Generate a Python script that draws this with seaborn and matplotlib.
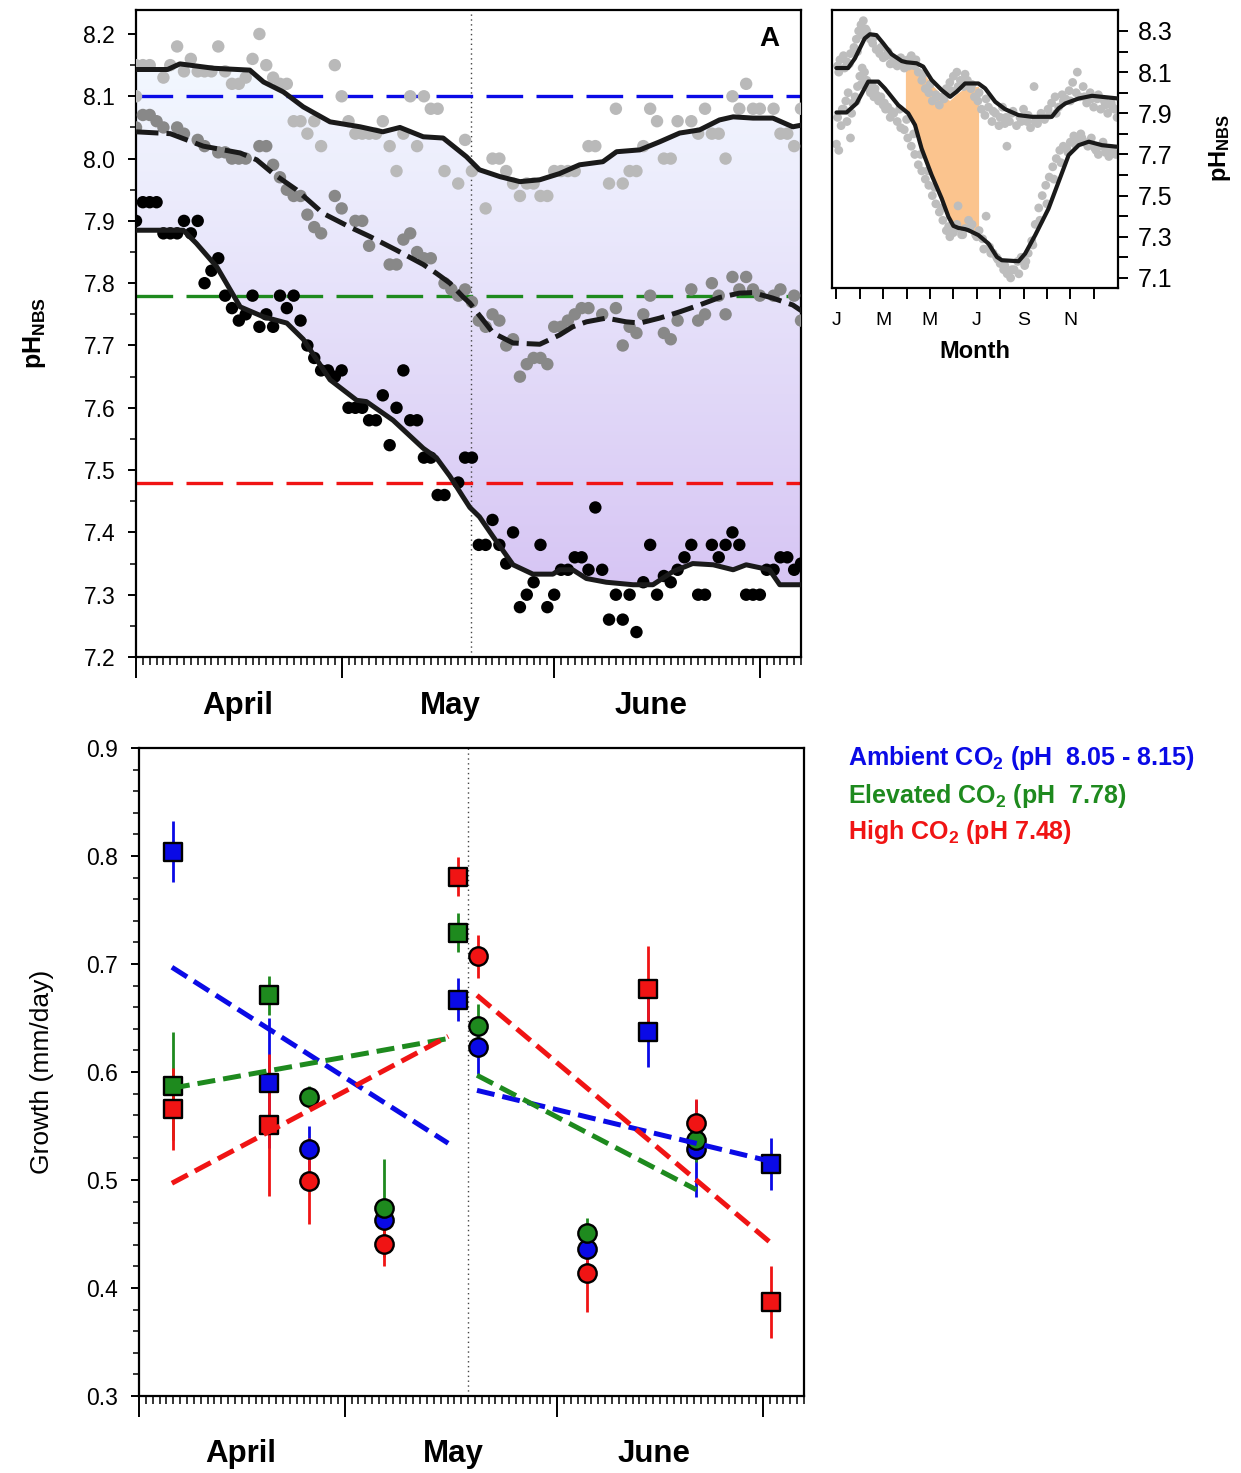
import numpy as np
import matplotlib
matplotlib.use("Agg")
import matplotlib.pyplot as plt
from matplotlib.patches import Polygon
from matplotlib.ticker import FixedLocator, FormatStrFormatter, NullFormatter
import seaborn as sns

# ---------------- seawater pH, spring season (days since 1 April) ----------------
amb_days = [0, 0, 1, 2, 4, 5, 6, 7, 8, 9, 10, 11, 12, 13, 14, 15, 16, 17, 18, 19, 20,
            21, 22, 23, 24, 25, 26, 27, 29, 30, 31, 32, 33, 34, 35, 36, 37, 38, 39, 40,
            41, 42, 43, 44, 45, 47, 48, 49, 51, 52, 53, 54, 55, 56, 57, 58, 59, 60, 61,
            62, 63, 64, 66, 67, 69, 70, 71, 72, 73, 74, 75, 76, 77, 78, 79, 81, 82, 83,
            84, 85, 86, 87, 88, 89, 90, 91, 93, 94, 95, 96, 97]
amb_ph = [8.15, 8.10, 8.15, 8.15, 8.13, 8.15, 8.18, 8.14, 8.16, 8.14, 8.14, 8.14, 8.18,
          8.14, 8.12, 8.12, 8.13, 8.16, 8.20, 8.15, 8.13, 8.12, 8.12, 8.06, 8.06, 8.04,
          8.06, 8.02, 8.15, 8.10, 8.06, 8.04, 8.04, 8.04, 8.04, 8.06, 8.02, 7.98, 8.04,
          8.10, 8.02, 8.10, 8.08, 8.08, 7.98, 7.96, 8.03, 7.98, 7.92, 8.00, 8.00, 7.98,
          7.96, 7.94, 7.96, 7.96, 7.94, 7.94, 7.98, 7.98, 7.98, 7.98, 8.02, 8.02, 7.96,
          8.08, 7.96, 7.98, 7.98, 8.02, 8.08, 8.06, 8.00, 8.00, 8.06, 8.06, 8.04, 8.08,
          8.04, 8.04, 8.00, 8.10, 8.08, 8.12, 8.08, 8.08, 8.08, 8.04, 8.04, 8.02, 8.08]

ele_days = [0, 1, 2, 3, 4, 6, 7, 9, 10, 12, 13, 14, 15, 16, 18, 19, 20, 21, 22, 23, 24,
            25, 26, 27, 29, 30, 32, 33, 34, 37, 38, 39, 40, 41, 42, 43, 45, 46, 47, 48,
            49, 50, 51, 52, 53, 54, 55, 56, 57, 58, 59, 60, 61, 62, 63, 64, 65, 66, 68,
            70, 71, 72, 73, 74, 75, 77, 78, 79, 81, 82, 83, 84, 85, 86, 87, 88, 89, 90,
            91, 93, 94, 96, 97]
ele_ph = [8.05, 8.07, 8.07, 8.06, 8.05, 8.05, 8.04, 8.03, 8.02, 8.01, 8.01, 8.00, 8.00,
          8.00, 8.02, 8.02, 7.99, 7.97, 7.95, 7.94, 7.94, 7.91, 7.89, 7.88, 7.94, 7.92,
          7.90, 7.90, 7.86, 7.83, 7.83, 7.87, 7.88, 7.85, 7.84, 7.84, 7.80, 7.79, 7.78,
          7.79, 7.77, 7.74, 7.73, 7.75, 7.74, 7.70, 7.71, 7.65, 7.67, 7.68, 7.68, 7.67,
          7.73, 7.73, 7.74, 7.75, 7.76, 7.76, 7.75, 7.76, 7.70, 7.73, 7.72, 7.75, 7.78,
          7.72, 7.71, 7.74, 7.79, 7.74, 7.75, 7.80, 7.78, 7.75, 7.81, 7.79, 7.81, 7.79,
          7.78, 7.78, 7.79, 7.78, 7.74]

high_days = list(range(0, 46)) + list(range(47, 98))
high_ph = [7.90, 7.93, 7.93, 7.93, 7.88, 7.88, 7.88, 7.90, 7.88, 7.90, 7.80, 7.82, 7.84,
           7.78, 7.76, 7.74, 7.75, 7.78, 7.73, 7.75, 7.73, 7.78, 7.76, 7.78, 7.74, 7.70,
           7.68, 7.66, 7.66, 7.65, 7.66, 7.60, 7.60, 7.60, 7.58, 7.58, 7.62, 7.54, 7.60,
           7.66, 7.58, 7.58, 7.52, 7.52, 7.46, 7.46, 7.48, 7.52, 7.52, 7.38, 7.38, 7.42,
           7.38, 7.35, 7.40, 7.28, 7.30, 7.32, 7.38, 7.28, 7.30, 7.34, 7.34, 7.36, 7.36,
           7.34, 7.44, 7.34, 7.26, 7.30, 7.26, 7.30, 7.24, 7.32, 7.38, 7.30, 7.33, 7.32,
           7.34, 7.36, 7.38, 7.30, 7.30, 7.38, 7.36, 7.38, 7.40, 7.38, 7.30, 7.30, 7.30,
           7.34, 7.34, 7.36, 7.36, 7.34, 7.35]

# running means
amb_smooth_days = [0, 4.6, 6.4, 11.3, 16.6, 18.6, 21.5, 24.4, 28.3, 32.7, 36, 38.5, 41.9,
                   44.8, 48.2, 50.1, 53.1, 56, 58.9, 61.8, 64.7, 68.1, 70.1, 73.5, 76.4,
                   79.3, 82.2, 85.1, 87.1, 90, 92.9, 95.8, 97.2]
amb_smooth_ph = [8.143, 8.143, 8.152, 8.145, 8.142, 8.123, 8.107, 8.083, 8.059, 8.051,
                 8.043, 8.050, 8.035, 8.033, 8.003, 7.982, 7.971, 7.963, 7.966, 7.976,
                 7.990, 7.995, 8.011, 8.014, 8.027, 8.041, 8.046, 8.062, 8.067, 8.065,
                 8.065, 8.051, 8.054]
ele_smooth_days = [0, 5, 9.8, 15.2, 17.6, 20, 23.4, 27.3, 31.2, 34.1, 38, 41.9, 43.8, 45.8,
                   47.7, 48.7, 52.1, 55, 58.9, 61.8, 63.7, 65.7, 68.6, 71.5, 73.5, 76.4,
                   79.3, 82.2, 85.1, 88, 90, 92.9, 95.8, 97.3]
ele_smooth_ph = [8.043, 8.040, 8.020, 8.009, 7.998, 7.976, 7.950, 7.912, 7.890, 7.875,
                 7.853, 7.830, 7.816, 7.800, 7.778, 7.768, 7.720, 7.704, 7.702, 7.717,
                 7.730, 7.738, 7.744, 7.738, 7.736, 7.744, 7.754, 7.765, 7.777, 7.784,
                 7.785, 7.776, 7.765, 7.754]
high_smooth_days = [0, 6.9, 8.8, 11.8, 15.2, 18.6, 22, 24.4, 28.3, 32.2, 33.6, 37.5, 41.9,
                    43.8, 45.8, 47.7, 48.7, 50.1, 52.1, 55, 57.9, 60.8, 61.8, 63.7, 65.7,
                    68.6, 72.5, 75.4, 78.3, 81.2, 84.2, 87.1, 89, 92.4, 93.9, 97.2]
high_smooth_ph = [7.885, 7.885, 7.864, 7.826, 7.762, 7.746, 7.736, 7.710, 7.645, 7.612,
                  7.610, 7.580, 7.535, 7.520, 7.490, 7.457, 7.440, 7.425, 7.393, 7.348,
                  7.333, 7.333, 7.340, 7.340, 7.326, 7.320, 7.316, 7.316, 7.337, 7.350,
                  7.348, 7.340, 7.348, 7.340, 7.316, 7.316]

target_ph = {"ambient": 8.10, "elevated": 7.78, "high": 7.48}
ph_transition_day = 48.8

# ---------------- annual pH cycle (months since January) ----------------
yr_up_month = [0.05, 0.15, 0.3, 0.45, 0.6, 0.75, 0.85, 0.95, 1.05, 1.15, 1.25, 1.35, 1.45,
               1.55, 1.7, 1.85, 2.0, 2.15, 2.3, 2.45, 2.6, 2.75, 2.9, 3.05, 3.2, 3.35, 3.5,
               3.65, 3.8, 3.95, 4.1, 4.25, 4.4, 4.55, 4.7, 4.85, 5.0, 5.15, 5.3, 5.45, 5.6,
               5.75, 5.9, 6.05, 6.2, 6.35, 6.5, 6.65, 6.8, 6.95, 7.1, 7.2, 7.29, 7.25, 7.4,
               7.55, 7.7, 7.85, 8.0, 8.15, 8.3, 8.45, 8.6, 8.75, 8.9, 9.05, 9.2, 9.35, 9.5,
               9.65, 9.8, 9.95, 10.1, 10.25, 10.4, 10.55, 10.7, 10.85, 11.0, 11.15, 11.3,
               11.45, 11.6, 11.75, 11.9, 12.0,
               0.1, 0.35, 0.55, 0.9, 1.1, 1.3, 1.6, 1.9, 2.2, 2.5, 2.8, 3.1, 3.4, 3.7, 4.0,
               4.3, 4.6, 4.9, 5.2, 5.5, 5.8, 6.1, 6.4, 6.7, 7.0, 7.5, 7.9, 8.2, 8.5, 8.8,
               9.1, 9.4, 9.7, 10.0, 10.3, 10.6, 10.9, 11.2, 11.5, 11.8]
yr_up_ph = [8.13, 8.16, 8.18, 8.15, 8.19, 8.22, 8.26, 8.30, 8.33, 8.35, 8.31, 8.28, 8.26,
            8.24, 8.21, 8.19, 8.17, 8.18, 8.14, 8.16, 8.13, 8.17, 8.12, 8.16, 8.18, 8.13,
            8.10, 8.06, 8.02, 8.00, 7.96, 7.99, 7.94, 7.98, 8.02, 8.05, 8.08, 8.10, 8.06,
            8.03, 8.06, 8.02, 7.98, 7.96, 7.92, 7.89, 7.93, 7.86, 7.90, 7.84, 7.93, 7.85,
            7.74, 7.88, 7.86, 7.91, 7.84, 7.88, 7.92, 7.86, 7.83, 8.03, 7.85, 7.90, 7.87,
            7.92, 7.95, 7.98, 7.93, 7.99, 7.97, 8.01, 8.05, 8.00, 7.98, 8.03, 7.95, 8.00,
            7.93, 7.97, 7.92, 7.96, 7.90, 7.95, 7.92, 7.88,
            8.10, 8.12, 8.14, 8.20, 8.28, 8.30, 8.27, 8.22, 8.20, 8.14, 8.15, 8.13, 8.16,
            8.09, 8.04, 7.98, 7.97, 8.01, 8.03, 8.09, 8.04, 8.00, 7.97, 7.91, 7.88, 7.90,
            7.86, 7.89, 7.86, 7.88, 7.89, 7.90, 7.96, 7.96, 8.10, 7.98, 7.97, 7.99, 7.94,
            7.93]
yr_lo_month = [0.0, 0.1, 0.2, 0.3, 0.4, 0.5, 0.6, 0.7, 0.8, 0.9, 1.0, 1.1, 1.2, 1.3, 1.4,
               1.5, 1.6, 1.7, 1.8, 1.9, 2.0, 2.1, 2.2, 2.3, 2.45, 2.6, 2.75, 2.9, 3.05,
               3.2, 3.35, 3.5, 3.65, 3.8, 3.95, 4.1, 4.25, 4.4, 4.55, 4.7, 4.85, 5.0, 5.15,
               5.2, 5.35, 5.5, 5.65, 5.8, 5.95, 6.1, 6.25, 6.4, 6.55, 6.7, 6.85, 7.0, 7.15,
               7.3, 7.45, 7.6, 7.75, 7.9, 8.05, 8.2, 8.35, 8.5, 8.65, 8.8, 8.95, 9.1, 9.25,
               9.4, 9.55, 9.7, 9.85, 10.0, 10.15, 10.3, 10.45, 10.6, 10.75, 10.9, 11.05,
               11.2, 11.35, 11.5, 11.65, 11.8, 11.95,
               0.05, 0.25, 0.45, 0.65, 0.85, 1.05, 1.25, 1.45, 1.65, 1.85, 2.05, 2.35, 2.7,
               3.0, 3.3, 3.6, 3.9, 4.2, 4.5, 4.8, 5.1, 5.4, 5.7, 6.0, 6.3, 6.6, 6.9, 7.2,
               7.5, 7.8, 8.1, 8.4, 8.7, 9.0, 9.3, 9.6, 9.9, 10.2, 10.5, 10.8, 11.1, 11.4,
               11.7]
yr_lo_ph = [7.75, 7.72, 7.84, 7.92, 7.96, 8.00, 7.78, 7.95, 7.98, 8.03, 8.08, 8.12, 8.10,
            8.06, 8.02, 8.04, 7.98, 7.99, 7.96, 7.98, 7.94, 7.92, 7.93, 7.88, 7.90, 7.86,
            7.83, 7.82, 7.78, 7.74, 7.70, 7.65, 7.62, 7.58, 7.55, 7.50, 7.46, 7.42, 7.38,
            7.33, 7.30, 7.32, 7.36, 7.45, 7.31, 7.34, 7.38, 7.36, 7.31, 7.33, 7.29, 7.40,
            7.25, 7.22, 7.20, 7.17, 7.14, 7.12, 7.10, 7.14, 7.18, 7.20, 7.16, 7.22, 7.28,
            7.36, 7.44, 7.50, 7.55, 7.59, 7.64, 7.68, 7.72, 7.74, 7.73, 7.76, 7.79, 7.77,
            7.80, 7.76, 7.74, 7.78, 7.73, 7.70, 7.74, 7.71, 7.69, 7.72, 7.70,
            7.88, 7.92, 7.86, 7.90, 7.96, 8.04, 8.06, 8.00, 8.02, 7.97, 7.95, 7.91, 7.92,
            7.87, 7.80, 7.70, 7.62, 7.54, 7.44, 7.35, 7.34, 7.31, 7.34, 7.30, 7.24, 7.22,
            7.19, 7.16, 7.14, 7.12, 7.18, 7.26, 7.38, 7.46, 7.58, 7.66, 7.71, 7.75, 7.78,
            7.75, 7.72, 7.76, 7.73]
yr_up_smooth_month = [0, 0.5, 0.79, 1.21, 1.43, 1.71, 2.0, 2.36, 2.79, 3.0, 3.43, 3.71,
                      4.07, 4.5, 4.86, 5.14, 5.5, 6.07, 6.36, 6.79, 7.21, 7.79, 8.36, 9.21,
                      9.5, 9.79, 10.36, 10.93, 12.04]
yr_up_smooth_ph = [8.12, 8.12, 8.167, 8.264, 8.284, 8.28, 8.24, 8.187, 8.154, 8.148, 8.143,
                   8.127, 8.062, 8.013, 7.98, 8.005, 8.045, 8.045, 8.021, 7.956, 7.92,
                   7.891, 7.883, 7.883, 7.924, 7.948, 7.972, 7.985, 7.972]
yr_lo_smooth_month = [0, 0.43, 0.86, 1.36, 1.79, 2.07, 2.64, 3.07, 3.36, 3.64, 4.07, 4.5,
                      4.79, 5.0, 5.21, 5.5, 5.64, 6.07, 6.5, 6.86, 7.07, 7.79, 8.07, 8.5,
                      9.07, 9.5, 9.93, 10.36, 10.79, 11.36, 12.04]
yr_lo_smooth_ph = [7.904, 7.904, 7.948, 8.054, 8.054, 8.021, 7.94, 7.90, 7.843, 7.729, 7.60,
                   7.486, 7.397, 7.353, 7.343, 7.337, 7.332, 7.308, 7.267, 7.202, 7.186,
                   7.181, 7.218, 7.308, 7.437, 7.567, 7.697, 7.745, 7.762, 7.745, 7.737]
# experimental period shaded on the annual cycle
season_month = [2.97, 3.43, 3.71, 4.07, 4.5, 4.86, 5.14, 5.5, 6.1]
season_top = [8.12, 8.12, 8.10, 8.04, 7.99, 7.96, 7.99, 8.02, 8.03]
season_bottom = [7.91, 7.83, 7.72, 7.60, 7.49, 7.38, 7.345, 7.337, 7.305]

# ---------------- shell growth (mm/day) ----------------
sq_days = [5.0, 18.9, 46.6, 74.3, 92.2]
ci_days = [24.8, 35.7, 49.5, 65.4, 81.2]
growth = {
    "ambient":  {"sq": [0.804, 0.590, 0.667, 0.637, 0.515], "sq_err": [0.028, 0.060, 0.020, 0.032, 0.024],
                 "ci": [0.529, 0.463, 0.623, 0.436, 0.529], "ci_err": [0.021, 0.015, 0.025, 0.015, 0.045]},
    "elevated": {"sq": [0.587, 0.671, 0.729, np.nan, np.nan], "sq_err": [0.050, 0.018, 0.018, np.nan, np.nan],
                 "ci": [0.577, 0.474, 0.643, 0.451, 0.537], "ci_err": [0.010, 0.045, 0.020, 0.014, 0.020]},
    "high":     {"sq": [0.566, 0.551, 0.781, 0.677, 0.387], "sq_err": [0.038, 0.066, 0.018, 0.040, 0.033],
                 "ci": [0.499, 0.441, 0.707, 0.414, 0.553], "ci_err": [0.040, 0.021, 0.020, 0.036, 0.022]},
}
# linear trends before / after the mid-May transition
trend_days_1 = [4.8, 45.1]
trend_days_2 = {"ambient": [49.3, 92.3], "elevated": [49.3, 81.3], "high": [49.3, 92.3]}
trend_vals_1 = {"ambient": [0.697, 0.534], "elevated": [0.585, 0.631], "high": [0.497, 0.633]}
trend_vals_2 = {"ambient": [0.583, 0.517], "elevated": [0.597, 0.491], "high": [0.671, 0.441]}
growth_transition_day = 48.0

month_names = ["April", "May", "June"]
month_label_days = [14.8, 45.9, 75.2]
month_start_days = [0, 30, 61, 91]
year_labels = ["J", "", "M", "", "M", "", "J", "", "S", "", "N", ""]
legend_labels = {
    "ambient": "Ambient CO$_\\mathbf{2}$ (pH  8.05 - 8.15)",
    "elevated": "Elevated CO$_\\mathbf{2}$ (pH  7.78)",
    "high": "High CO$_\\mathbf{2}$ (pH 7.48)",
}

# ---------------- style ----------------
sns.set_theme(style="ticks")
plt.rcParams["font.family"] = ["Liberation Sans", "DejaVu Sans"]
plt.rcParams["mathtext.fontset"] = "custom"
plt.rcParams["mathtext.rm"] = "Liberation Sans"
plt.rcParams["mathtext.bf"] = "Liberation Sans:bold"
plt.rcParams["mathtext.it"] = "Liberation Sans:italic"
plt.rcParams["axes.linewidth"] = 1.6
for k in ["text.color", "axes.labelcolor", "xtick.color", "ytick.color", "axes.edgecolor"]:
    plt.rcParams[k] = "black"

colors = {"ambient": "#0a0ae6", "elevated": "#1e8a1e", "high": "#f01414"}
month_font = dict(family=["Liberation Sans Narrow", "Liberation Sans", "DejaVu Sans"],
                  weight="bold", size=22.5)

W, H = 1241, 1473
fig = plt.figure(figsize=(W / 100, H / 100), dpi=100)
ax_ph = fig.add_axes([136 / W, 1 - 657 / H, 665 / W, 647 / H])
ax_gr = fig.add_axes([139 / W, 1 - 1396 / H, 665 / W, 648 / H])
ax_yr = fig.add_axes([832 / W, 1 - 288 / H, 286 / W, 278 / H])

XMAX = 97

# ---------------- panel A: daily pH ----------------
grad_top = np.array([0.953, 0.976, 1.0])
grad_bot = np.array([0.84, 0.77, 0.955])
t = np.linspace(0, 1, 256)[:, None]
grad = (grad_bot[None, :] * (1 - t) + grad_top[None, :] * t)[:, None, :]
img = ax_ph.imshow(grad, extent=[0, XMAX, 7.30, 8.16], origin="lower",
                   aspect="auto", zorder=0, interpolation="bilinear")
band = Polygon(np.vstack([np.column_stack([amb_smooth_days, amb_smooth_ph]),
                          np.column_stack([high_smooth_days, high_smooth_ph])[::-1]]),
               closed=True, transform=ax_ph.transData, facecolor="none", edgecolor="none")
ax_ph.add_patch(band)
img.set_clip_path(band)

for key in ["ambient", "elevated", "high"]:
    ax_ph.axhline(target_ph[key], color=colors[key], lw=2.4, dashes=(11, 4), zorder=2)
ax_ph.axvline(ph_transition_day, color="#444444", lw=1.0, ls=(0, (1, 2.5)), zorder=1)

sns.scatterplot(x=amb_days, y=amb_ph, ax=ax_ph, color="#b9b9b9", s=80,
                edgecolor="none", zorder=3, legend=False)
sns.scatterplot(x=ele_days, y=ele_ph, ax=ax_ph, color="#888888", s=80,
                edgecolor="none", zorder=3, legend=False)
sns.scatterplot(x=high_days, y=high_ph, ax=ax_ph, color="#000000", s=80,
                edgecolor="none", zorder=3, legend=False)

ax_ph.plot(amb_smooth_days, amb_smooth_ph, color="k", lw=3.6, zorder=4,
           solid_capstyle="butt")
ax_ph.plot(ele_smooth_days, ele_smooth_ph, color="k", lw=3.6, zorder=4,
           dashes=(4.5, 1.6))
ax_ph.plot(high_smooth_days, high_smooth_ph, color="k", lw=3.6, zorder=4)

ax_ph.set_xlim(0, XMAX)
ax_ph.set_ylim(7.2, 8.2385)
ax_ph.yaxis.set_major_locator(FixedLocator(np.round(np.arange(7.2, 8.21, 0.1), 2)))
ax_ph.yaxis.set_minor_locator(FixedLocator(np.round(np.arange(7.25, 8.21, 0.1), 2)))
ax_ph.yaxis.set_major_formatter(FormatStrFormatter("%.1f"))
ax_ph.text(0.953, 0.955, "A", transform=ax_ph.transAxes, fontsize=20,
           fontweight="bold", ha="center", va="center")
fig.text(0.028, 1 - 333 / H, "pH$_\\mathbf{NBS}$", rotation=90, fontsize=18,
         fontweight="bold", ha="center", va="center")

# ---------------- panel B: growth ----------------
ax_gr.axvline(growth_transition_day, color="#444444", lw=1.0, ls=(0, (1, 2.5)), zorder=1)
for key in ["ambient", "elevated", "high"]:
    g = growth[key]
    ax_gr.errorbar(sq_days, g["sq"], yerr=g["sq_err"], fmt="none",
                   ecolor=colors[key], elinewidth=2.0, capsize=0, zorder=2)
    ax_gr.errorbar(ci_days, g["ci"], yerr=g["ci_err"], fmt="none",
                   ecolor=colors[key], elinewidth=2.0, capsize=0, zorder=2)
for i, key in enumerate(["ambient", "elevated", "high"]):
    g = growth[key]
    sns.scatterplot(x=sq_days, y=g["sq"], ax=ax_gr, marker="s", s=155,
                    color=colors[key], edgecolor="black", linewidth=1.7,
                    zorder=3 + i * 0.1, legend=False)
    sns.scatterplot(x=ci_days, y=g["ci"], ax=ax_gr, marker="o", s=175,
                    color=colors[key], edgecolor="black", linewidth=1.7,
                    zorder=3 + i * 0.1, legend=False)
for key in ["ambient", "elevated", "high"]:
    ax_gr.plot(trend_days_1, trend_vals_1[key], color=colors[key], lw=3.6,
               dashes=(3.6, 1.6), zorder=5)
    ax_gr.plot(trend_days_2[key], trend_vals_2[key], color=colors[key], lw=3.6,
               dashes=(3.6, 1.6), zorder=5)

ax_gr.set_xlim(0, XMAX)
ax_gr.set_ylim(0.3, 0.9)
ax_gr.yaxis.set_major_locator(FixedLocator(np.round(np.arange(0.3, 0.91, 0.1), 2)))
ax_gr.yaxis.set_minor_locator(FixedLocator(np.round(np.arange(0.3, 0.9, 0.02), 2)))
ax_gr.yaxis.set_major_formatter(FormatStrFormatter("%.1f"))
fig.text(0.034, 1 - 1072 / H, "Growth (mm/day)", rotation=90, fontsize=19,
         ha="center", va="center")

# shared date axis styling
for ax, ylab in [(ax_ph, -0.075), (ax_gr, -0.09)]:
    ax.xaxis.set_major_locator(FixedLocator(month_start_days))
    ax.xaxis.set_minor_locator(FixedLocator(range(0, XMAX + 1)))
    ax.xaxis.set_major_formatter(NullFormatter())
    ax.tick_params(axis="x", which="major", length=15, width=1.4, direction="out")
    ax.tick_params(axis="x", which="minor", length=6, width=1.1, direction="out")
    ax.tick_params(axis="y", which="major", length=6, width=1.4, direction="out",
                   labelsize=16.5, pad=9)
    ax.tick_params(axis="y", which="minor", length=4, width=1.1, direction="out")
    for sp in ax.spines.values():
        sp.set_visible(True)
        sp.set_color("black")
    for name, d in zip(month_names, month_label_days):
        ax.text(d, ylab, name, transform=ax.get_xaxis_transform(), ha="center",
                va="center", **month_font)

# legend text
for key, yy in [("ambient", 758), ("elevated", 796), ("high", 832)]:
    fig.text(848 / W, 1 - yy / H, legend_labels[key], color=colors[key], fontsize=18,
             fontweight="bold", ha="left", va="center")

# ---------------- inset: annual cycle ----------------
season = Polygon(np.vstack([np.column_stack([season_month, season_top]),
                            np.column_stack([season_month, season_bottom])[::-1]]),
                 closed=True, facecolor="#fbc48e", edgecolor="none", zorder=1)
ax_yr.add_patch(season)
sns.scatterplot(x=yr_up_month, y=yr_up_ph, ax=ax_yr, color="#bdbdbd", s=40,
                edgecolor="none", zorder=2, legend=False)
sns.scatterplot(x=yr_lo_month, y=yr_lo_ph, ax=ax_yr, color="#bdbdbd", s=40,
                edgecolor="none", zorder=2, legend=False)
ax_yr.plot(yr_up_smooth_month, yr_up_smooth_ph, color="k", lw=3.0, zorder=3)
ax_yr.plot(yr_lo_smooth_month, yr_lo_smooth_ph, color="k", lw=3.0, zorder=3)
ax_yr.set_xlim(-0.19, 12.04)
ax_yr.set_ylim(7.051, 8.402)
ax_yr.yaxis.tick_right()
ax_yr.yaxis.set_major_locator(FixedLocator(np.round(np.arange(7.1, 8.31, 0.2), 2)))
ax_yr.yaxis.set_minor_locator(FixedLocator(np.round(np.arange(7.2, 8.31, 0.2), 2)))
ax_yr.yaxis.set_major_formatter(FormatStrFormatter("%.1f"))
ax_yr.xaxis.set_major_locator(FixedLocator(range(12)))
ax_yr.set_xticklabels(year_labels)
ax_yr.tick_params(axis="y", which="major", length=7, width=1.4, direction="out",
                  labelsize=18, pad=7, right=True, left=False)
ax_yr.tick_params(axis="y", which="minor", length=7, width=1.4, direction="out",
                  right=True, left=False)
ax_yr.tick_params(axis="x", which="major", length=8, width=1.4, direction="out",
                  labelsize=14, pad=9)
for sp in ax_yr.spines.values():
    sp.set_visible(True)
    sp.set_color("black")
ax_yr.set_xlabel("Month", fontsize=17, fontweight="bold", labelpad=8)
fig.text(1220 / W, 1 - 148 / H, "pH$_\\mathbf{NBS}$", rotation=90, fontsize=17,
         fontweight="bold", ha="center", va="center")

fig.savefig("out.png", dpi=100, facecolor="white")
